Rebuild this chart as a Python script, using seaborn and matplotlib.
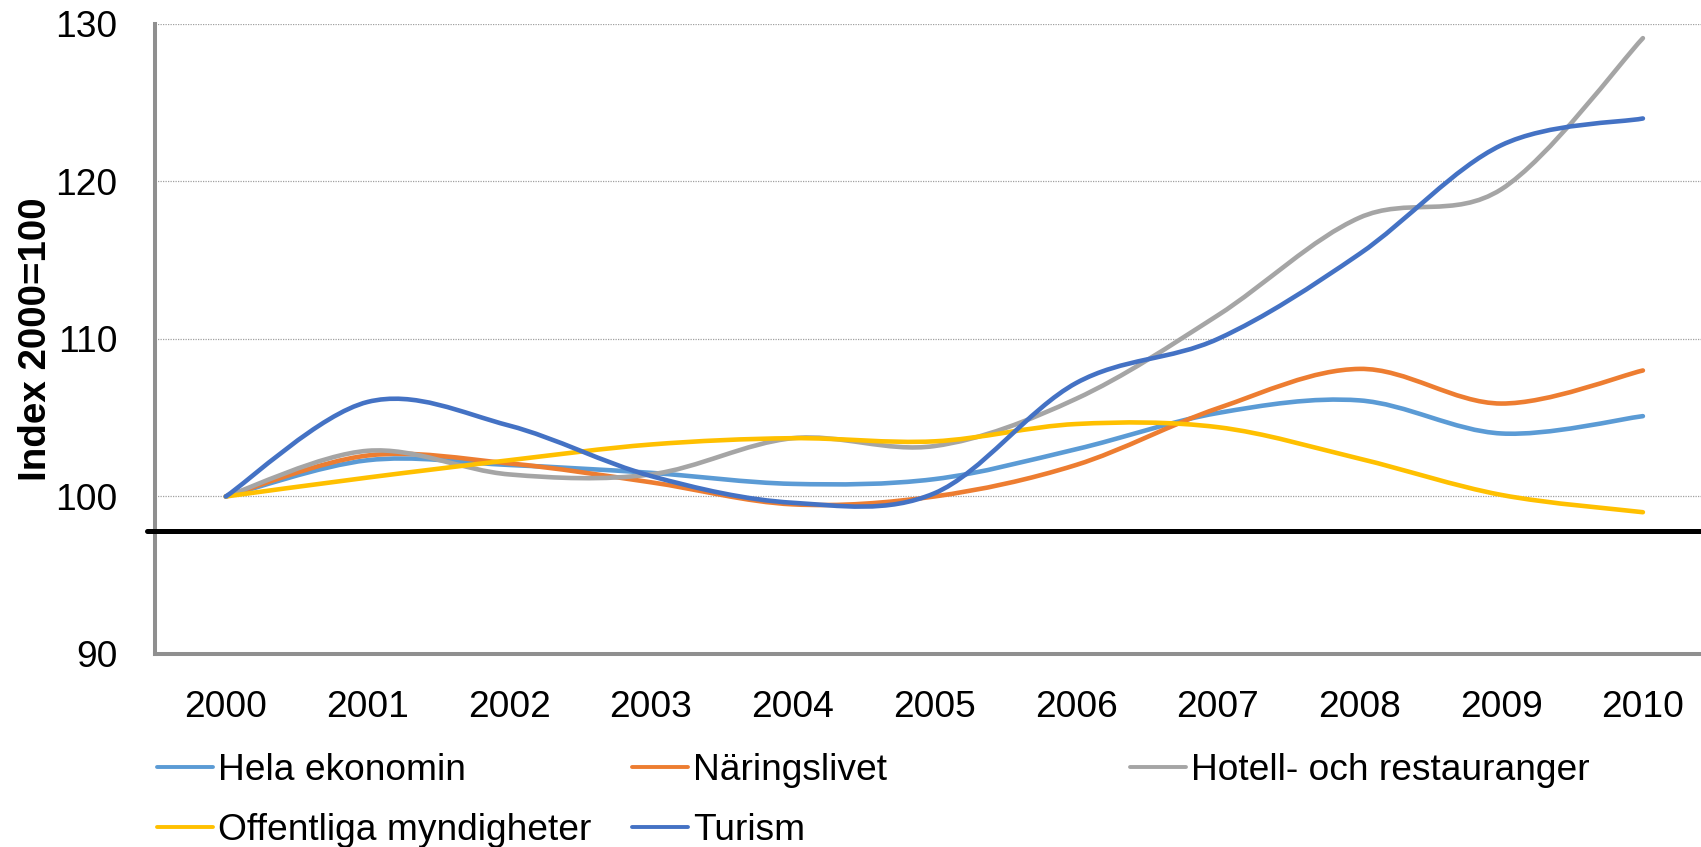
"""
Index 2000=100: employment index per sector, 2000-2010, Excel-style smoothed lines.
"""

import numpy as np
import matplotlib
matplotlib.use("Agg")
import matplotlib.pyplot as plt
import seaborn as sns
from matplotlib.path import Path
from matplotlib.patches import PathPatch
from matplotlib.lines import Line2D

YEARS = ["2000", "2001", "2002", "2003", "2004", "2005",
         "2006", "2007", "2008", "2009", "2010"]

HELA = [100, 102.3, 102.0, 101.5, 100.8, 101.1, 103.0, 105.3, 106.1, 104.0, 105.1]
NARINGSLIVET = [100, 102.6, 102.1, 100.9, 99.5, 100.0, 102.0, 105.6, 108.1, 105.9, 108.0]
HOTELL = [100, 102.9, 101.4, 101.4, 103.7, 103.2, 106.2, 111.5, 117.7, 119.5, 129.1]
OFFENTLIGA = [100, 101.2, 102.3, 103.3, 103.7, 103.5, 104.6, 104.4, 102.4, 100.1, 99.0]
TURISM = [100, 106.0, 104.5, 101.3, 99.6, 100.2, 107.2, 110.0, 115.4, 122.3, 124.0]

SERIES_NAMES = ["Hela ekonomin", "Näringslivet", "Hotell- och restauranger",
                "Offentliga myndigheter", "Turism"]
SERIES_VALUES = [HELA, NARINGSLIVET, HOTELL, OFFENTLIGA, TURISM]
COLORS = ["#5B9BD5", "#ED7D31", "#A5A5A5", "#FFC000", "#4472C4"]

REF_LINE = 97.8
Y_TICKS = [90, 100, 110, 120, 130]
Y_LABEL = "Index 2000=100"

AXIS_GRAY = "#8F8F8F"
FONT_SIZE = 26.7


def smooth_path(xs, ys):
    # Excel-like smoothing: cubic Bezier through every point, Catmull-Rom tangents
    pts = np.column_stack([xs, ys]).astype(float)
    n = len(pts)
    verts = [pts[0]]
    codes = [Path.MOVETO]
    for i in range(n - 1):
        p0 = pts[i - 1] if i > 0 else pts[i]
        p1, p2 = pts[i], pts[i + 1]
        p3 = pts[i + 2] if i + 2 < n else pts[i + 1]
        verts += [p1 + (p2 - p0) / 6.0, p2 - (p3 - p1) / 6.0, p2]
        codes += [Path.CURVE4] * 3
    return Path(verts, codes)


sns.set_style("white")
plt.rcParams["font.family"] = ["Liberation Sans", "DejaVu Sans"]
plt.rcParams["text.color"] = "black"
plt.rcParams["axes.labelcolor"] = "black"
plt.rcParams["xtick.labelcolor"] = "black"
plt.rcParams["ytick.labelcolor"] = "black"

fig = plt.figure(figsize=(17.01, 8.47), dpi=100)
ax = fig.add_axes([0.0911, 0.2279, 0.9089, 0.7438])

x = np.arange(len(YEARS))
palette = sns.color_palette(COLORS)
for vals, col in zip(SERIES_VALUES, palette):
    patch = PathPatch(smooth_path(x, vals), facecolor="none", edgecolor=col,
                      linewidth=3.3, capstyle="round", joinstyle="round", zorder=3)
    ax.add_patch(patch)

ax.axhline(REF_LINE, xmin=-0.005, xmax=1.0, color="black", linewidth=3.6,
           clip_on=False, zorder=4)

ax.set_xlim(-0.5, 10.41)
ax.set_ylim(90, 130)

ax.set_xticks(x)
ax.set_xticklabels(YEARS)
ax.set_xticks(np.arange(-0.5, 10, 1.0), minor=True)
ax.tick_params(axis="x", which="major", length=0, pad=26, labelsize=FONT_SIZE)
ax.tick_params(axis="x", which="minor", length=9, width=2.3, color=AXIS_GRAY, direction="out")

ax.set_yticks(Y_TICKS)
ax.tick_params(axis="y", length=10, width=2.3, color=AXIS_GRAY, direction="out",
               pad=17, labelsize=FONT_SIZE)

ax.yaxis.grid(True, color="#A0A0A0", linestyle=(0, (1, 1)), linewidth=0.9)
ax.xaxis.grid(False)

for side in ["top", "right"]:
    ax.spines[side].set_visible(False)
for side in ["left", "bottom"]:
    ax.spines[side].set_color(AXIS_GRAY)
    ax.spines[side].set_linewidth(2.9)

ax.set_ylabel(Y_LABEL, fontsize=27.7, fontweight="bold")
ax.yaxis.set_label_coords(-0.065, 0.5)

handles = [Line2D([0], [0], color=c, linewidth=2.8) for c in palette]
legend_cols = [[0, 3], [1, 4], [2]]
legend_x = [157 / 1701, 632 / 1701, 1130 / 1701]
for idxs, lx in zip(legend_cols, legend_x):
    fig.legend([handles[i] for i in idxs], [SERIES_NAMES[i] for i in idxs],
               loc="upper left", bbox_to_anchor=(lx, 1 - 753 / 847),
               frameon=False, fontsize=FONT_SIZE, borderpad=0, borderaxespad=0,
               handlelength=1.5, handletextpad=0.15, labelspacing=0.68)

fig.savefig("out.png", dpi=100)
plt.close(fig)
